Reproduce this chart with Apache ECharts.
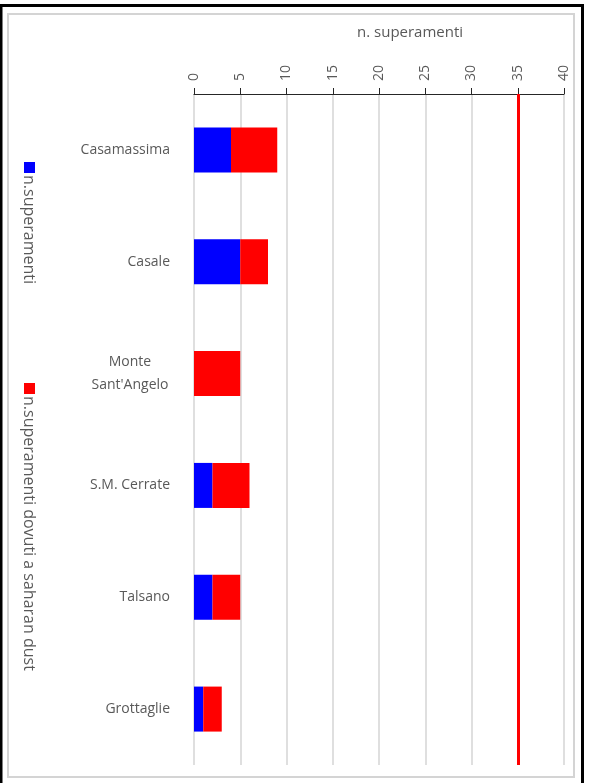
<!DOCTYPE html>
<html>
<head>
<meta charset="utf-8">
<script src="https://cdn.jsdelivr.net/npm/echarts@6/dist/echarts.min.js"></script>
<style>html,body{margin:0;padding:0;background:#fff;}#c{width:590px;height:783px;}</style>
</head>
<body>
<div id="c"></div>
<script>
var categories = ['Casamassima', 'Casale', "Monte\nSant'Angelo", 'S.M. Cerrate', 'Talsano', 'Grottaglie'];
var seriesNames = ['n.superamenti', 'n.superamenti dovuti a saharan dust'];
var superamenti = [4, 5, 0, 2, 2, 1];
var saharanDust = [5, 3, 5, 4, 3, 2];
var limitValue = 35;
var axisTitle = 'n. superamenti';
var colors = ['#0000ff', '#ff0000'];

var FONT = 'Open Sans';
var chart = echarts.init(document.getElementById('c'));

function legendGraphic(i, y) {
  return [
    { type: 'rect', shape: { x: 24, y: y, width: 11, height: 11 }, style: { fill: colors[i] } },
    { type: 'text', x: 29, y: y + 13, rotation: -Math.PI / 2,
      style: { text: seriesNames[i], fill: '#595959', font: '16px "' + FONT + '"', textAlign: 'left', textVerticalAlign: 'middle' } }
  ];
}

var option = {
  animation: false,
  title: { text: axisTitle, left: 352, top: 20, textStyle: { fontFamily: FONT, fontSize: 15, fontWeight: 'normal', color: '#595959' } },
  grid: { left: 194, right: 26, top: 94, bottom: 18, containLabel: false },
  xAxis: {
    type: 'value', position: 'top', min: 0, max: 40, interval: 5,
    axisLine: { show: true, lineStyle: { color: '#262626', width: 1 } },
    axisTick: { show: true, length: 6, lineStyle: { color: '#262626' } },
    axisLabel: { rotate: -90, margin: 13, color: '#595959', fontFamily: FONT, fontSize: 14 },
    splitLine: { show: true, lineStyle: { color: '#d4d4d4', width: 1.5 } }
  },
  yAxis: {
    type: 'category', inverse: true, data: categories,
    axisLine: { show: false }, axisTick: { show: false },
    axisLabel: {
      margin: 24, color: '#595959', fontFamily: FONT, fontSize: 14, lineHeight: 23,
      formatter: function (v) {
        if (v.indexOf('\n') >= 0) return v.split('\n').map(function (s) { return '{c|' + s + '}'; }).join('\n');
        return v;
      },
      rich: { c: { width: 80, align: 'center', color: '#595959', fontFamily: FONT, fontSize: 14, lineHeight: 23 } }
    }
  },
  series: [
    { name: seriesNames[0], type: 'bar', stack: 's', data: superamenti, barWidth: 45, itemStyle: { color: colors[0] } },
    { name: seriesNames[1], type: 'bar', stack: 's', data: saharanDust, barWidth: 45, itemStyle: { color: colors[1] },
      markLine: { silent: true, symbol: 'none', label: { show: false },
        lineStyle: { color: '#ff0000', width: 3, type: 'solid' }, data: [{ xAxis: limitValue }] } }
  ],
  graphic: [
    { type: 'rect', shape: { x: 1, y: 5.5, width: 581.5, height: 820 }, style: { fill: null, stroke: '#000', lineWidth: 3 } },
    { type: 'rect', shape: { x: 8, y: 14, width: 566, height: 763 }, style: { fill: null, stroke: '#d4d4d4', lineWidth: 2 } }
  ].concat(legendGraphic(0, 162)).concat(legendGraphic(1, 383))
};
chart.setOption(option);
</script>
</body>
</html>
